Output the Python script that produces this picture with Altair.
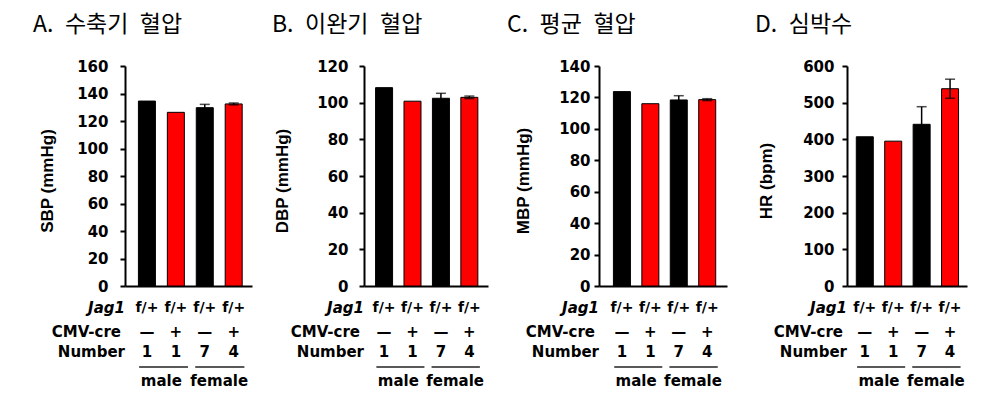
import altair as alt
import pandas as pd

# ---- data ----
groups = [0, 1, 2, 3]
bar_colors = ["#000000", "#FF0000", "#000000", "#FF0000"]
jag1 = ["f/+", "f/+", "f/+", "f/+"]
cmv = ["—", "+", "—", "+"]
numbers = ["1", "1", "7", "4"]
sexes = ["male", "female"]
sex_start = [-0.27, 1.67]
sex_end = [1.42, 3.37]
sex_mid = [0.5, 2.5]
row_labels = ["Jag1", "CMV-cre", "Number"]

titles = ["A.\u2002수축기\u2002혈압", "B.\u2002이완기\u2002혈압", "C.\u2002평균\u2002혈압", "D.\u2002심박수"]
ytitles = ["SBP (mmHg)", "DBP (mmHg)", "MBP (mmHg)", "HR (bpm)"]

sbp = [134.5, 126.3, 129.7, 132.4]
sbp_err = [0, 0, 2.4, 0.7]
dbp = [108.2, 100.8, 102.4, 102.9]
dbp_err = [0, 0, 2.7, 0.7]
mbp = [123.7, 116.0, 118.4, 118.6]
mbp_err = [0, 0, 2.7, 0.6]
hr = [407, 395, 441, 538]
hr_err = [0, 0, 48, 26]

values = [sbp, dbp, mbp, hr]
errors = [sbp_err, dbp_err, mbp_err, hr_err]
ymax = [160, 120, 140, 600]
ystep = [20, 20, 20, 100]

# layout parameters per panel
xdom = [[-0.585, 3.46], [-0.53, 3.48], [-0.63, 3.52], [-0.45, 3.42]]
plot_w = [127, 124, 128, 120]
layout_w = [239, 235, 248, 125]
label_pad = [12, 11, 4, 8]
title_x = [-77, -81, -75, -80]

FONT = "DejaVu Sans"
YFONT = "Liberation Sans"
H = 220


def panel(i):
    df = pd.DataFrame({
        "g": groups, "v": values[i], "e": errors[i], "c": bar_colors,
        "jag": jag1, "cmv": cmv, "n": numbers,
    })
    df["lo"] = df["v"] - df["e"]
    df["hi"] = df["v"] + df["e"]
    xs = alt.Scale(domain=xdom[i], range=[0, plot_w[i]], nice=False, zero=False)
    ys = alt.Scale(domain=[0, ymax[i]], nice=False, zero=True)
    xaxis = alt.Axis(labels=False, ticks=False, title=None, grid=False,
                     domainColor="black", domainWidth=2)
    yaxis = alt.Axis(
        values=list(range(0, ymax[i] + 1, ystep[i])), title=None,
        labelFont=FONT, labelFontSize=15, labelFontWeight="bold", labelColor="black",
        labelPadding=label_pad[i], labelOverlap=False, labelFlush=False,
        tickSize=5, tickWidth=2, tickColor="black",
        domainColor="black", domainWidth=2, grid=False,
    )
    base = alt.Chart(df)
    xq = alt.X("g:Q", scale=xs, axis=xaxis)
    bars = base.mark_bar(size=17, stroke="black", strokeWidth=1).encode(
        x=xq,
        y=alt.Y("v:Q", scale=ys, axis=yaxis),
        color=alt.Color("c:N", scale=None),
    )
    eb = base.transform_filter("datum.e > 0")
    rule = eb.mark_rule(color="black", strokeWidth=1.5).encode(
        x=xq, y=alt.Y("lo:Q", scale=ys, axis=yaxis), y2="hi:Q")
    cap_hi = eb.mark_tick(color="black", size=10, thickness=1.5, orient="horizontal").encode(
        x=xq, y=alt.Y("hi:Q", scale=ys, axis=yaxis))
    cap_lo = eb.mark_tick(color="black", size=10, thickness=1.5, orient="horizontal").encode(
        x=xq, y=alt.Y("lo:Q", scale=ys, axis=yaxis))

    def row(field, ypix, size=15):
        return base.mark_text(font=FONT, fontSize=size, fontWeight="bold", color="black",
                              baseline="middle", align="center").encode(
            x=xq, y=alt.value(ypix), text=f"{field}:N")

    t_jag = row("jag", 241.5, 14)
    t_cmv = row("cmv", 266)
    t_n = row("n", 286)

    labs = []
    for k in range(3):
        d = pd.DataFrame({"t": [row_labels[k]]})
        labs.append(alt.Chart(d).mark_text(
            font=FONT, fontSize=15, fontWeight="bold",
            fontStyle="italic" if k == 0 else "normal", color="black",
            align="right", baseline="middle").encode(
            x=alt.value([0, -4, 0][k]), y=alt.value([241.5, 266, 286][k]), text="t:N"))

    sdf = pd.DataFrame({"s": sex_start, "e2": sex_end, "m": sex_mid, "lab": sexes})
    s_rule = alt.Chart(sdf).mark_rule(color="#222222", strokeWidth=1.5).encode(
        x=alt.X("s:Q", scale=xs, axis=xaxis), x2="e2:Q", y=alt.value(301))
    s_text = alt.Chart(sdf).mark_text(font=FONT, fontSize=15, fontWeight="bold",
                                      color="black", baseline="middle").encode(
        x=alt.X("m:Q", scale=xs, axis=xaxis), y=alt.value(315), text="lab:N")

    tdf = pd.DataFrame({"t": [titles[i]], "yt": [ytitles[i]]})
    title = alt.Chart(tdf).mark_text(font="Noto Sans CJK KR", fontSize=23, color="black",
                                     align="left", baseline="alphabetic").encode(
        x=alt.value(-92), y=alt.value(-34), text="t:N")
    ytitle = alt.Chart(tdf).mark_text(font=YFONT, fontSize=17, fontWeight="bold", color="black",
                                      align="center", baseline="middle", angle=270).encode(
        x=alt.value(title_x[i]), y=alt.value(115), text="yt:N")

    return alt.layer(bars, rule, cap_hi, cap_lo, t_jag, t_cmv, t_n, *labs,
                     s_rule, s_text, title, ytitle).properties(width=layout_w[i], height=H)


chart = alt.hconcat(*[panel(i) for i in range(4)], spacing=0, bounds="flush").properties(
    autosize=alt.AutoSizeParams(type="none"),
    padding={"left": 125, "top": 66, "right": 873, "bottom": 335},
).configure_view(stroke=None).configure_axis(grid=False)

chart.save("out.html", embed_options={"renderer": "svg", "actions": False})
